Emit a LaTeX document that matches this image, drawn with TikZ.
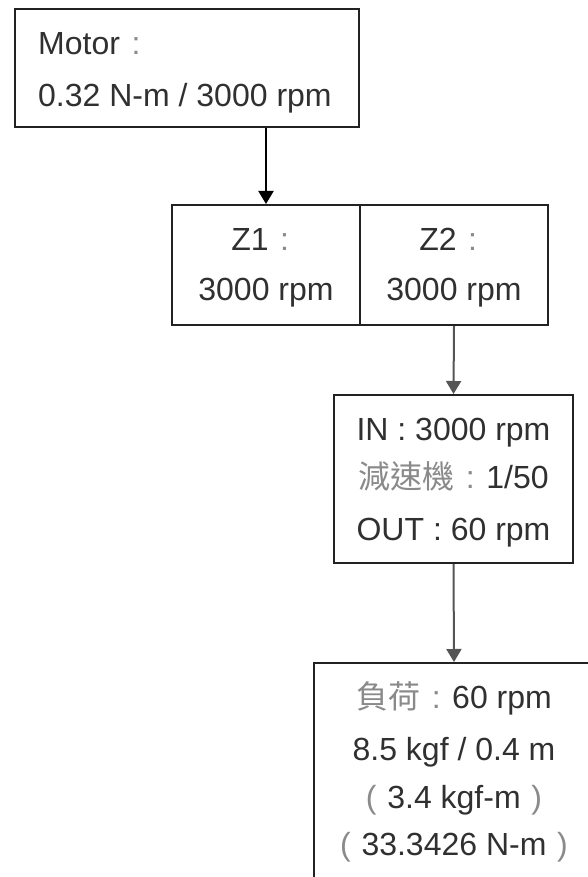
\documentclass[tikz,border=0pt]{standalone}
\usepackage{fontspec}
\setmainfont{Liberation Sans}
\newfontfamily\cjk{Noto Sans CJK TC}
\usetikzlibrary{arrows.meta}
\definecolor{txt}{HTML}{303030}
\definecolor{cjkgray}{HTML}{8A8A8A}
\definecolor{edge}{HTML}{222222}
\definecolor{arrgray}{HTML}{555555}
\newcommand{\cj}[1]{{\cjk\color{cjkgray}#1}}
\newcommand{\fw}[1]{\makebox[1em][c]{\color{cjkgray}#1}}
\begin{document}
\begin{tikzpicture}[x=1pt,y=-1pt,
  box/.style={draw=edge, line width=2pt, inner sep=0pt},
  lbl/.style={anchor=base, inner sep=0pt, font=\fontsize{32}{38}\selectfont, text=txt},
  conn/.style={line width=2pt, -{Triangle[width=15pt,length=13pt]}}]
\useasboundingbox (0,0) rectangle (588,877);
\clip (0,0) rectangle (588,877);
\fill[white] (0,0) rectangle (588,877);
% boxes
\node[box, minimum width=344pt, minimum height=118pt] (motor) at (187,68) {};
\node[box, minimum width=188pt, minimum height=120pt] (z1) at (266,265) {};
\node[box, minimum width=188pt, minimum height=120pt] (z2) at (454,265) {};
\node[box, minimum width=239pt, minimum height=168pt] (gear) at (453.5,479) {};
\node[box, minimum width=280pt, minimum height=237pt] (load) at (454,781.5) {};
% texts
\node[lbl, anchor=base west] (m1) at (38,55) {Motor\fw{:}};
\node[lbl, anchor=base west] (m2) at (38,107) {0.32 N-m / 3000 rpm};
\node[lbl] (z1a) at (266,250) {Z1\fw{:}};
\node[lbl] (z1b) at (266,300) {3000 rpm};
\node[lbl] (z2a) at (454,250) {Z2\fw{:}};
\node[lbl] (z2b) at (454,300) {3000 rpm};
\node[lbl] (g1) at (453.5,440) {IN : 3000 rpm};
\node[lbl] (g2) at (453.5,488) {\cj{減速機}\fw{:}1/50};
\node[lbl] (g3) at (453.5,540) {OUT : 60 rpm};
\node[lbl] (l1) at (454,708) {\cj{負荷}\fw{:}60 rpm};
\node[lbl] (l2) at (454,760) {8.5 kgf / 0.4 m};
\node[lbl] (l3) at (454,808) {\fw{(}3.4 kgf-m\fw{)}};
\node[lbl] (l4) at (454,855) {\fw{(}33.3426 N-m\fw{)}};
% connectors
\draw[conn, draw=black] (motor.south -| z1.north) -- (z1.north);
\draw[conn, draw=arrgray] (z2.south) -- (gear.north);
\draw[conn, draw=arrgray] (gear.south) -- (load.north);
\end{tikzpicture}
\end{document}
